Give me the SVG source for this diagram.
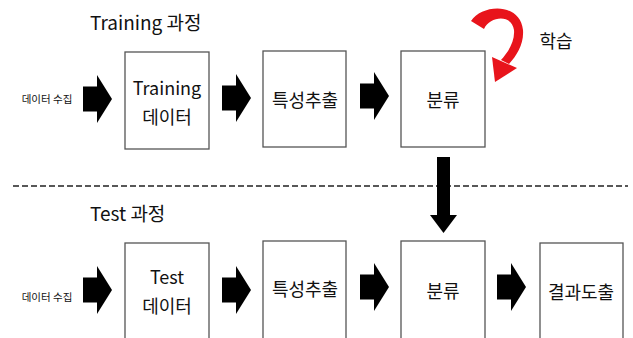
<svg xmlns="http://www.w3.org/2000/svg" xmlns:xlink="http://www.w3.org/1999/xlink" width="633" height="338" viewBox="0 0 633 338">
<style>
.box{fill:#fff;stroke:#555;stroke-width:1.3}
.t{font-family:"Noto Sans CJK KR","Noto Sans",sans-serif;fill:#111;text-anchor:middle;dominant-baseline:central}
.title{font-size:19px;text-anchor:start}
.lbl{font-size:18px}
.sm{font-size:10.5px}
.blk{fill:#000}
</style>
<defs>
<path id="ar" d="M0,-12.5 H14 V-24 L29,0 L14,24 V12.5 H0 Z"/>
</defs>
<rect width="633" height="338" fill="#fff"/>

<text class="t title" x="90" y="21">Training 과정</text>
<text class="t title" x="90" y="212">Test 과정</text>

<g id="train-collect"><text class="t sm" x="47" y="98">데이터 수집</text></g>
<g id="train-data"><rect class="box" x="125" y="52" width="84" height="97"/><text class="t lbl" x="167" y="87">Training</text><text class="t lbl" x="167" y="116">데이터</text></g>
<g id="train-feat"><rect class="box" x="263" y="51" width="83" height="96"/><text class="t lbl" x="305" y="99">특성추출</text></g>
<g id="train-cls"><rect class="box" x="401" y="51" width="84" height="96"/><text class="t lbl" x="443" y="99">분류</text></g>
<g id="learn"><text class="t lbl" x="556" y="40">학습</text></g>

<g id="test-collect"><text class="t sm" x="47" y="296">데이터 수집</text></g>
<g id="test-data"><rect class="box" x="125" y="243" width="84" height="100"/><text class="t lbl" x="167" y="276">Test</text><text class="t lbl" x="167" y="305">데이터</text></g>
<g id="test-feat"><rect class="box" x="263" y="241" width="83" height="102"/><text class="t lbl" x="305" y="288">특성추출</text></g>
<g id="test-cls"><rect class="box" x="401" y="241" width="84" height="102"/><text class="t lbl" x="443" y="290">분류</text></g>
<g id="test-result"><rect class="box" x="540" y="243" width="83" height="100"/><text class="t lbl" x="581" y="291">결과도출</text></g>

<g id="connectors">
<line x1="13" y1="186" x2="628" y2="186" stroke="#222" stroke-width="1.6" stroke-dasharray="6 3"/>
<use xlink:href="#ar" class="blk" transform="translate(83,99)"/>
<use xlink:href="#ar" class="blk" transform="translate(222,98)"/>
<use xlink:href="#ar" class="blk" transform="translate(360,96)"/>
<use xlink:href="#ar" class="blk" transform="translate(83,290)"/>
<use xlink:href="#ar" class="blk" transform="translate(222,290)"/>
<use xlink:href="#ar" class="blk" transform="translate(360,287)"/>
<use xlink:href="#ar" class="blk" transform="translate(497,287)"/>
<path class="blk" d="M437,157 H450 V215 H457 L443.5,233 L430,215 H437 Z"/>
<path d="M471,21 L484,29 C490,16 512,14 514,30 C515,42 508,52 501,60 L509,64 C517,55 524,44 523,30 C520,2 482,4 471,21 Z" fill="#e8141b"/>
<polygon points="492,57 517,68 495,82" fill="#e8141b"/>
</g>
</svg>
